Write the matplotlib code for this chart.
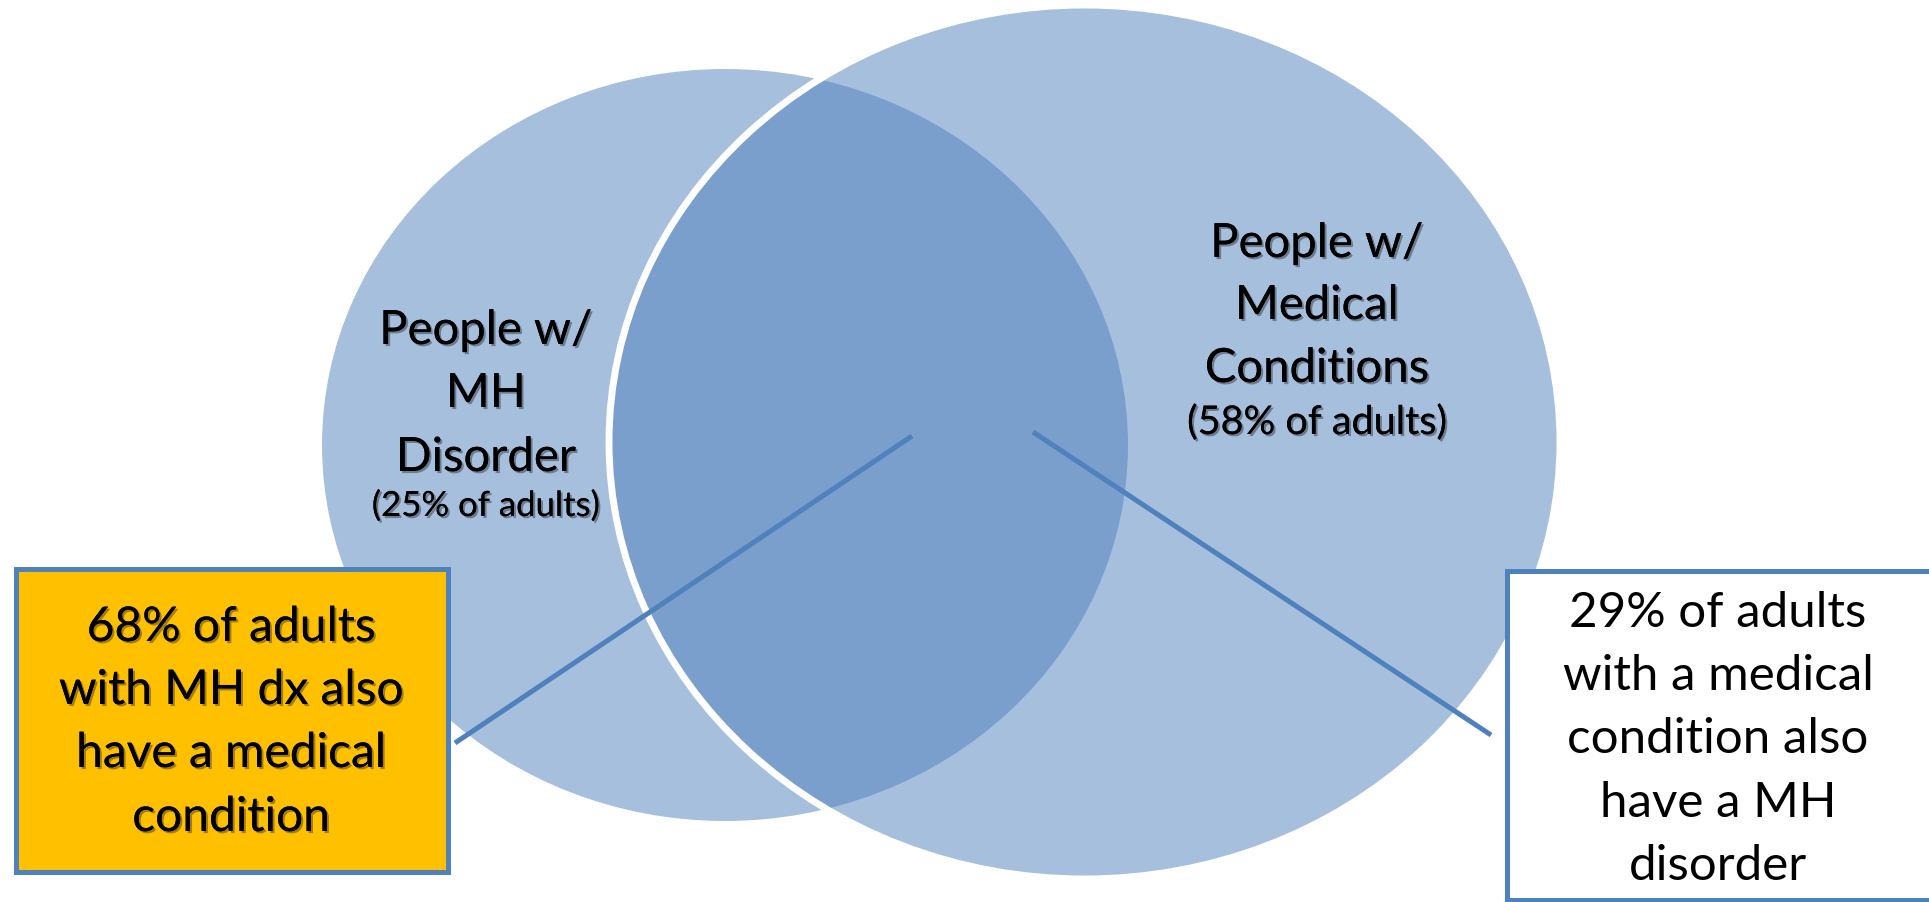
import matplotlib
matplotlib.use("Agg")
import matplotlib.pyplot as plt
from matplotlib.patches import Ellipse, Rectangle
import matplotlib.patheffects as pe

# data
set_names = [["People w/", "MH", "Disorder"], ["People w/", "Medical", "Conditions"]]
set_shares = [25, 58]        # % of adults in each group
overlap_shares = [68, 29]    # % of each group that is also in the other

BLUE = "#4f81bd"
ORANGE = "#ffc000"
W, H = 1929, 903

plt.rcParams["font.family"] = ["Lato", "DejaVu Sans"]

fig = plt.figure(figsize=(W / 100, H / 100), dpi=100)
ax = fig.add_axes([0, 0, 1, 1])
ax.set_xlim(0, W)
ax.set_ylim(H, 0)
ax.axis("off")

# circles (pixel layout)
ax.add_patch(Ellipse((725, 446), 806, 752, fc=BLUE, alpha=0.5, lw=0, zorder=1))
ax.add_patch(Ellipse((1084.5, 443), 951, 874, fc=BLUE, alpha=0.5, lw=0, zorder=2))
ax.add_patch(Ellipse((1084.5, 443), 951, 874, fill=False, ec="white", lw=5, zorder=3))

shadow = [pe.withSimplePatchShadow(offset=(1.5, -1.5), shadow_rgbFace="black", alpha=0.35),
          pe.Normal()]

# group labels
label_pos = [(486, [345, 408, 472], 517, 25), (1317, [258, 320, 383], 435, 28.5)]
for names, share, (cx, ys, ysub, subsize) in zip(set_names, set_shares, label_pos):
    for txt, y in zip(names, ys):
        ax.text(cx, y, txt, ha="center", va="baseline", fontsize=34,
                color="black", path_effects=shadow, zorder=5)
    ax.text(cx, ysub, f"({share}% of adults)", ha="center", va="baseline",
            fontsize=subsize, color="black", path_effects=shadow, zorder=5)

# connector lines
ax.plot([912, 455], [437, 744], color=BLUE, lw=3.6, solid_capstyle="butt", zorder=4)
ax.plot([1033, 1491], [433, 736], color=BLUE, lw=3.6, solid_capstyle="butt", zorder=4)

# callout boxes
ax.add_patch(Rectangle((15.5, 569.5), 432, 303, fc=ORANGE, ec=BLUE, lw=3.6, zorder=6))
ax.add_patch(Rectangle((1506.5, 571.5), 450, 329, fc="white", ec=BLUE, lw=3.6, zorder=6))

left_lines = [f"{overlap_shares[0]}% of adults", "with MH dx also", "have a medical", "condition"]
for txt, y in zip(left_lines, [642, 705, 768, 832]):
    ax.text(231, y, txt, ha="center", va="baseline", fontsize=34.5,
            color="black", path_effects=shadow, zorder=7)

right_lines = [f"{overlap_shares[1]}% of adults", "with a medical", "condition also",
               "have a MH", "disorder"]
for txt, y in zip(right_lines, [627, 690, 753, 817, 880]):
    ax.text(1718, y, txt, ha="center", va="baseline", fontsize=35.5,
            color="black", zorder=7)

fig.savefig("out.png", dpi=100)
